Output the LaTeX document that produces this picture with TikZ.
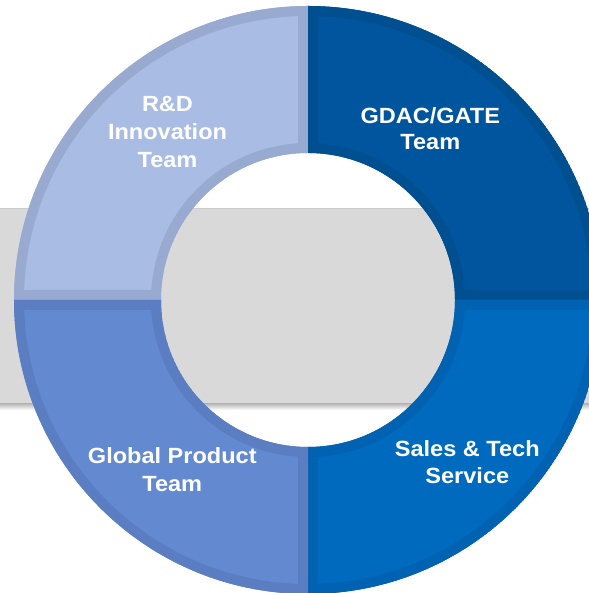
\documentclass[tikz,border=0pt]{standalone}
\usepackage{fontspec}
\newfontfamily\lblfont[FakeStretch=1.07]{Liberation Sans}
\definecolor{tlf}{HTML}{A9BCE4}
\definecolor{tld}{HTML}{98AACF}
\definecolor{trf}{HTML}{00569E}
\definecolor{trd}{HTML}{004F90}
\definecolor{brf}{HTML}{006ABF}
\definecolor{brd}{HTML}{0062B1}
\definecolor{blf}{HTML}{6389D1}
\definecolor{bld}{HTML}{5A7EC1}
\definecolor{bandgray}{HTML}{D9D9D9}
\begin{document}
\begin{tikzpicture}[x=1bp,y=1bp,
  lbl/.style={text=white, font=\lblfont\bfseries\fontsize{22bp}{28bp}\selectfont, anchor=base, inner sep=0pt}]
\useasboundingbox (0,0) rectangle (589,593);
\fill[white] (0,0) rectangle (589,593);
% gray band with shadow
\shade[top color=black!32, bottom color=white] (0,190.3) rectangle (589,183);
\fill[bandgray] (0,190.3) rectangle (589,385);
\draw[black!20, line width=0.6bp] (0,385) -- (589,385);
\coordinate (c) at (308,293);
\foreach \a/\b/\f/\d in {90/180/tlf/tld, 0/90/trf/trd, 270/360/brf/brd, 180/270/blf/bld} {
  \begin{scope}
    \clip ([shift={(\a:147)}]c) -- ([shift={(\a:294)}]c) arc[start angle=\a,end angle=\b,radius=294bp] -- ([shift={(\b:147)}]c) arc[start angle=\b,end angle=\a,radius=147bp] -- cycle;
    \filldraw[fill=\f, draw=\d, line width=20bp] ([shift={(\a:147)}]c) -- ([shift={(\a:294)}]c) arc[start angle=\a,end angle=\b,radius=294bp] -- ([shift={(\b:147)}]c) arc[start angle=\b,end angle=\a,radius=147bp] -- cycle;
  \end{scope}
}
\node[lbl] (rd1) at (167.5,481.3) {R\&D};
\node[lbl] (rd2) at (167.5,453.7) {Innovation};
\node[lbl] (rd3) at (167.5,425.3) {Team};
\node[lbl] (gd1) at (430.3,469.7) {GDAC/GATE};
\node[lbl] (gd2) at (430.3,443) {Team};
\node[lbl] (gp1) at (172.3,129) {Global Product};
\node[lbl] (gp2) at (172.3,101.3) {Team};
\node[lbl] (st1) at (467.3,136.3) {Sales \& Tech};
\node[lbl] (st2) at (467.3,109) {Service};
\end{tikzpicture}
\end{document}
